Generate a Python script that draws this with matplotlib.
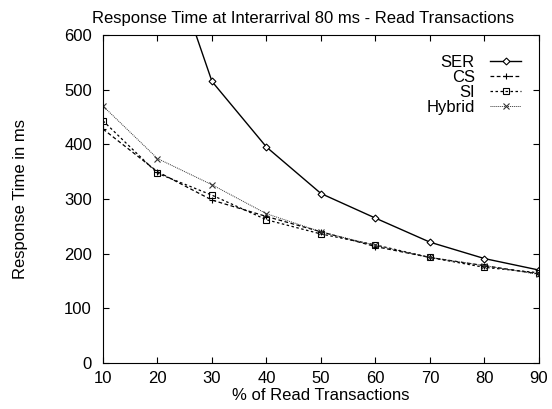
import numpy as np
import matplotlib.pyplot as plt

plt.rcParams['font.family'] = ['Liberation Sans', 'DejaVu Sans']

read_pct = [10, 20, 30, 40, 50, 60, 70, 80, 90]
ser = [1200, 805, 515, 395, 310, 265, 221, 191, 170]
cs = [428, 350, 298, 268, 240, 213, 193, 178, 163]
si = [443, 347, 307, 262, 236, 216, 193, 175, 165]
hybrid = [470, 374, 326, 273, 240, 215, 193, 178, 162]

fig = plt.figure(figsize=(5.52, 4.09), dpi=100)
ax = fig.add_axes([0.1866, 0.1125, 0.7898, 0.8019])

ax.plot(read_pct, ser, color='black', lw=1.0, ls='-', marker='D', ms=3.5,
        mfc='white', mew=0.8, label='SER')
ax.plot(read_pct, cs, color='black', lw=0.9, ls=(0, (3, 2)), marker='+', ms=5,
        mew=0.8, label='CS')
ax.plot(read_pct, si, color='black', lw=0.9, ls=(0, (2, 2)), marker='s', ms=4,
        mfc='none', mew=0.8, label='SI')
ax.plot(read_pct, hybrid, color='#333333', lw=0.7, ls=(0, (1, 1)), marker='x', ms=4.5,
        mew=0.8, label='Hybrid')

ax.set_xlim(10, 90)
ax.set_ylim(0, 600)
ax.set_xticks(read_pct)
ax.set_yticks(range(0, 601, 100))
ax.tick_params(direction='in', top=True, right=True, labelsize=12, length=4)
ax.tick_params(axis='x', pad=6)
ax.tick_params(axis='y', pad=8)

ax.set_title('Response Time at Interarrival 80 ms - Read Transactions', fontsize=12,
             pad=9, x=0.46)
ax.set_xlabel('% of Read Transactions', fontsize=12, labelpad=1)
ax.set_ylabel('Response Time in ms', fontsize=12, labelpad=26)

ax.legend(loc='upper right', frameon=False, markerfirst=False, fontsize=12,
          handlelength=1.9, handletextpad=0.9, labelspacing=0.0, borderaxespad=0.0,
          bbox_to_anchor=(0.975, 0.96))

fig.savefig('out.png', dpi=100)
